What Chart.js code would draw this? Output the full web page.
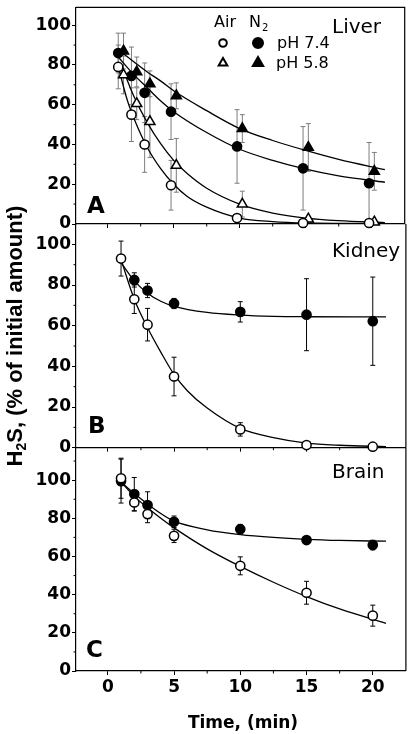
<!DOCTYPE html>
<html>
<head>
<meta charset="utf-8">
<title>H2S disappearance in tissue homogenates</title>
<script src="https://cdn.jsdelivr.net/npm/chart.js@4/dist/chart.umd.min.js"></script>
<style>
  body { margin: 0; background: #fff; }
  #wrap { position: relative; width: 412px; height: 734px; }
  canvas { position: absolute; left: 0; }
</style>
</head>
<body>
<div id="wrap">
  <canvas id="panelA" width="412" height="240" style="top:0"></canvas>
  <canvas id="panelB" width="412" height="290" style="top:190px"></canvas>
  <canvas id="panelC" width="412" height="296" style="top:438px"></canvas>
</div>
<script>
// ---- axis ticks ----
const timeTicks = [0, 5, 10, 15, 20];
const minorTimeTicks = [2.5, 7.5, 12.5, 17.5];
const percentTicks = [0, 20, 40, 60, 80, 100];
const minorPercentTicks = [10, 30, 50, 70, 90, 110];

// ---- A: liver (circles drawn a bit left, triangles a bit right of the sample time) ----
const liverTimesCircle = [0.8, 1.8, 2.8, 4.8, 9.8, 14.8, 19.8];
const liverTimesTriangle = [1.2, 2.2, 3.2, 5.2, 10.2, 15.2, 20.2];
const liverAir74 = [79, 55, 40, 19.5, 3, 0.5, 0.5];
const liverAir74Err = [11, 13.5, 14, 12.5, 1, 0.5, 0.5];
const liverN274 = [86, 74.5, 66, 56.5, 39, 28, 20.5];
const liverN274Err = [10, 14.5, 15, 14, 18.5, 21, 20.5];
const liverAir58 = [75, 60.5, 51.5, 29.5, 10, 2.5, 1];
const liverAir58Err = [9.5, 8, 18, 13.5, 6.5, 1, 1];
const liverN258 = [87, 76.5, 70.5, 64.5, 48, 38.5, 26.5];
const liverN258Err = [9, 7.5, 6.5, 6.5, 7, 12, 9.5];

// fitted curves
const liverFitAir74T = [0.8, 1.5, 2, 3, 4, 5, 6, 7.5, 10, 12.5, 15, 21];
const liverFitAir74 = [79, 62, 53, 38.5, 28, 20, 14, 8.5, 3, 1.2, 0.5, 0.2];
const liverFitN274T = [0.8, 2, 3, 4, 5, 7.5, 10, 12.5, 15, 17.5, 21];
const liverFitN274 = [84, 75, 68.5, 62, 56.5, 46, 37.6, 32, 27.6, 24.2, 21];
const liverFitAir58T = [1.2, 2, 3, 4, 5, 6, 7.5, 10, 12.5, 15, 17.5, 21];
const liverFitAir58 = [77, 64, 51, 40.5, 32, 25.5, 18, 10, 5.5, 3, 1.7, 0.7];
const liverFitN258T = [1.2, 2, 3, 4, 5, 7.5, 10, 12.5, 15, 17.5, 21];
const liverFitN258 = [85.6, 81.5, 76.5, 72, 67, 57, 48, 42, 37, 32.5, 27.3];

// ---- B: kidney ----
const sampleTimes = [1, 2, 3, 5, 10, 15, 20];
const kidneyAir = [93, 73, 60.5, 35, 9, 1.3, 0.5];
const kidneyAirErr = [8.6, 7, 8, 9.5, 3.3, 1, 1];
const kidneyN2Times = [2, 3, 5, 10, 15, 20];
const kidneyN2 = [82.5, 77.3, 70.9, 66.8, 65.4, 62.2];
const kidneyN2Err = [3.5, 3.5, 2.5, 5, 17.7, 21.7];

const kidneyFitAirT = [1, 2, 3, 4, 5, 6, 7.5, 10, 12.5, 15, 17.5, 21];
const kidneyFitAir = [92.5, 73, 59, 47, 36, 28, 19.5, 9.5, 5, 2.3, 1.2, 0.5];
const kidneyFitN2T = [1, 2, 3, 4, 5, 7.5, 10, 12.5, 15, 21];
const kidneyFitN2 = [91, 82, 76, 72, 69.5, 66.5, 65.2, 64.6, 64.4, 64.3];

// ---- C: brain ----
const brainAir = [101, 88.3, 82.2, 70.8, 55.1, 41, 29];
const brainAirErr = [10.5, 4.5, 4.5, 3.5, 4.7, 6, 5.5];
const brainN2 = [99.5, 92.7, 86.9, 78.2, 74.3, 68.6, 66];
const brainN2Err = [11.5, 8.7, 7, 3, 2.5, 1.5, 2.5];

const brainFitT = [1, 2, 3, 4, 5, 7.5, 10, 12.5, 15, 17.5, 21];
const brainFitAir = [99, 91.5, 85.5, 80, 75, 64, 54.8, 46.5, 39, 32.5, 25];
const brainFitN2 = [99, 93, 87.5, 82.5, 78.5, 74, 71.5, 70, 69, 68.4, 68];

// ---- helpers ----
const pts = (xs, ys) => xs.map((x, i) => ({ x: x, y: ys[i] }));
const tickFont = { family: 'DejaVu Sans', size: 17, weight: 'bold' };

function markers(label, times, values, errs, style, filled, errColor) {
  return {
    label: label,
    data: pts(times, values),
    errorBars: errs,
    errorColor: errColor,
    showLine: false,
    clip: false,
    pointStyle: style,
    pointRadius: style === 'triangle' ? 5.8 : 4.6,
    pointHoverRadius: style === 'triangle' ? 5.8 : 4.6,
    pointBackgroundColor: filled ? '#000' : '#fff',
    pointBorderColor: '#000',
    pointBorderWidth: 1.5
  };
}

function fitCurve(times, values) {
  return {
    data: pts(times, values),
    showLine: true,
    pointRadius: 0,
    borderColor: '#000',
    borderWidth: 1.3,
    cubicInterpolationMode: 'monotone',
    fill: false
  };
}

// error bars, drawn under the lines and symbols
const errorBarPlugin = {
  id: 'errorBars',
  beforeDatasetsDraw(chart) {
    const ctx = chart.ctx;
    const x = chart.scales.x, y = chart.scales.y;
    chart.data.datasets.forEach(ds => {
      if (!ds.errorBars) return;
      ctx.save();
      ctx.strokeStyle = ds.errorColor;
      ctx.lineWidth = 1;
      ctx.beginPath();
      ds.data.forEach((p, i) => {
        const e = ds.errorBars[i];
        const px = x.getPixelForValue(p.x);
        const top = y.getPixelForValue(p.y + e);
        const bot = y.getPixelForValue(p.y - e);
        ctx.moveTo(px, top); ctx.lineTo(px, bot);
        ctx.moveTo(px - 2.5, top); ctx.lineTo(px + 2.5, top);
        ctx.moveTo(px - 2.5, bot); ctx.lineTo(px + 2.5, bot);
      });
      ctx.stroke();
      ctx.restore();
    });
  }
};

function drawSymbol(ctx, kind, filled, cx, cy, r) {
  ctx.beginPath();
  if (kind === 'circle') {
    ctx.arc(cx, cy, r, 0, Math.PI * 2);
  } else {
    ctx.moveTo(cx, cy - r);
    ctx.lineTo(cx + r * 0.866, cy + r * 0.5);
    ctx.lineTo(cx - r * 0.866, cy + r * 0.5);
    ctx.closePath();
  }
  ctx.fillStyle = filled ? '#000' : '#fff';
  ctx.fill();
  ctx.lineWidth = 2;
  ctx.strokeStyle = '#000';
  ctx.stroke();
}

// frame, minor ticks, labels
function makeDecor(spec) {
  return {
    id: 'decor',
    afterDraw(chart) {
      const ctx = chart.ctx, a = chart.chartArea;
      const x = chart.scales.x, y = chart.scales.y;
      ctx.save();
      ctx.strokeStyle = '#000';
      ctx.lineWidth = 1.2;
      ctx.beginPath();
      ctx.moveTo(a.right, a.bottom);
      ctx.lineTo(a.right, a.top);
      if (spec.topFrame) ctx.lineTo(a.left, a.top);
      ctx.stroke();

      ctx.lineWidth = 1;
      ctx.beginPath();
      minorTimeTicks.forEach(v => {
        const px = x.getPixelForValue(v);
        ctx.moveTo(px, a.bottom); ctx.lineTo(px, a.bottom + 2.5);
      });
      minorPercentTicks.filter(v => v < y.max).forEach(v => {
        const py = y.getPixelForValue(v);
        ctx.moveTo(a.left, py); ctx.lineTo(a.left - 2.5, py);
      });
      ctx.stroke();

      ctx.fillStyle = '#000';
      ctx.textBaseline = 'alphabetic';
      spec.texts.forEach(t => {
        ctx.font = (t.bold ? 'bold ' : '') + t.size + 'px "DejaVu Sans"';
        ctx.textAlign = t.align || 'left';
        ctx.fillText(t.text, t.x, t.y);
      });

      if (spec.legend) {
        drawSymbol(ctx, 'circle', false, 223, 43, 3.8);
        drawSymbol(ctx, 'circle', true, 258, 43, 5);
        drawSymbol(ctx, 'triangle', false, 223, 63, 5);
        drawSymbol(ctx, 'triangle', true, 258, 63, 6);
      }

      if (spec.yTitle) {
        ctx.translate(spec.yTitle.x, spec.yTitle.y);
        ctx.rotate(-Math.PI / 2);
        ctx.textAlign = 'left';
        const big = 'bold 22px "Liberation Sans"', small = 'bold 14px "Liberation Sans"';
        const rest = 'S, (% of initial amount)';
        ctx.font = big;
        const wH = ctx.measureText('H').width, wRest = ctx.measureText(rest).width;
        ctx.font = small;
        const w2 = ctx.measureText('2').width;
        let sx = -(wH + w2 + wRest) / 2;
        ctx.font = big; ctx.fillText('H', sx, 0); sx += wH;
        ctx.font = small; ctx.fillText('2', sx, 4); sx += w2;
        ctx.font = big; ctx.fillText(rest, sx, 0);
      }
      ctx.restore();
    }
  };
}

function makePanel(id, datasets, p) {
  return new Chart(document.getElementById(id), {
    type: 'scatter',
    data: { datasets: datasets },
    options: {
      responsive: false,
      animation: false,
      events: [],
      layout: { padding: { top: p.padTop, right: 2, left: 0, bottom: 0 } },
      plugins: { legend: { display: false }, tooltip: { enabled: false } },
      scales: {
        x: {
          type: 'linear', min: -2.4, max: 22.5,
          grid: { drawOnChartArea: false, drawTicks: true, tickLength: 4, color: '#000', tickWidth: 1 },
          border: { display: true, color: '#000', width: 1.2 },
          ticks: { display: p.showX, font: tickFont, color: '#000', padding: 2, maxRotation: 0 },
          afterBuildTicks: s => { s.ticks = timeTicks.map(v => ({ value: v })); },
          afterFit: s => { s.height = p.xHeight; s.paddingLeft = 0; s.paddingRight = 0; }
        },
        y: {
          type: 'linear', min: 0, max: p.yMax,
          grid: { drawOnChartArea: false, drawTicks: true, tickLength: 4, color: '#000', tickWidth: 1 },
          border: { display: true, color: '#000', width: 1.2 },
          ticks: { font: tickFont, color: '#000', padding: 1 },
          afterBuildTicks: s => { s.ticks = percentTicks.map(v => ({ value: v })); },
          afterFit: s => { s.width = 76; s.paddingTop = 0; s.paddingBottom = 0; }
        }
      }
    },
    plugins: [errorBarPlugin, makeDecor(p.decor)]
  });
}

const grey = '#7d7d7d';

makePanel('panelA', [
  markers('Air pH 7.4', liverTimesCircle, liverAir74, liverAir74Err, 'circle', false, grey),
  markers('Air pH 5.8', liverTimesTriangle, liverAir58, liverAir58Err, 'triangle', false, grey),
  markers('N2 pH 7.4', liverTimesCircle, liverN274, liverN274Err, 'circle', true, grey),
  markers('N2 pH 5.8', liverTimesTriangle, liverN258, liverN258Err, 'triangle', true, grey),
  fitCurve(liverFitAir74T, liverFitAir74),
  fitCurve(liverFitAir58T, liverFitAir58),
  fitCurve(liverFitN274T, liverFitN274),
  fitCurve(liverFitN258T, liverFitN258)
], {
  padTop: 2, xHeight: 16, yMax: 109, showX: false,
  decor: {
    topFrame: true, legend: true,
    texts: [
      { text: 'Liver', x: 332, y: 33, size: 20 },
      { text: 'A', x: 87, y: 213, size: 23, bold: true },
      { text: 'Air', x: 214, y: 27, size: 16 },
      { text: 'N', x: 249, y: 27, size: 16 },
      { text: '2', x: 262, y: 31, size: 10 },
      { text: 'pH 7.4', x: 277, y: 48, size: 16 },
      { text: 'pH 5.8', x: 276, y: 68, size: 16 }
    ]
  }
});

makePanel('panelB', [
  markers('Air', sampleTimes, kidneyAir, kidneyAirErr, 'circle', false, '#000'),
  markers('N2', kidneyN2Times, kidneyN2, kidneyN2Err, 'circle', true, '#000'),
  fitCurve(kidneyFitAirT, kidneyFitAir),
  fitCurve(kidneyFitN2T, kidneyFitN2)
], {
  padTop: 34, xHeight: 32.3, yMax: 110, showX: false,
  decor: {
    texts: [
      { text: 'Kidney', x: 332, y: 67, size: 20 },
      { text: 'B', x: 88, y: 243, size: 23, bold: true }
    ],
    yTitle: { x: 22, y: 146 }
  }
});

makePanel('panelC', [
  markers('Air', sampleTimes, brainAir, brainAirErr, 'circle', false, '#000'),
  markers('N2', sampleTimes, brainN2, brainN2Err, 'circle', true, '#000'),
  fitCurve(brainFitT, brainFitAir),
  fitCurve(brainFitT, brainFitN2)
], {
  padTop: 9.7, xHeight: 63, yMax: 117, showX: true,
  decor: {
    texts: [
      { text: 'Brain', x: 332, y: 40, size: 20 },
      { text: 'C', x: 86, y: 219, size: 23, bold: true },
      { text: 'Time, (min)', x: 243, y: 290, size: 17, bold: true, align: 'center' }
    ]
  }
});
</script>
</body>
</html>
